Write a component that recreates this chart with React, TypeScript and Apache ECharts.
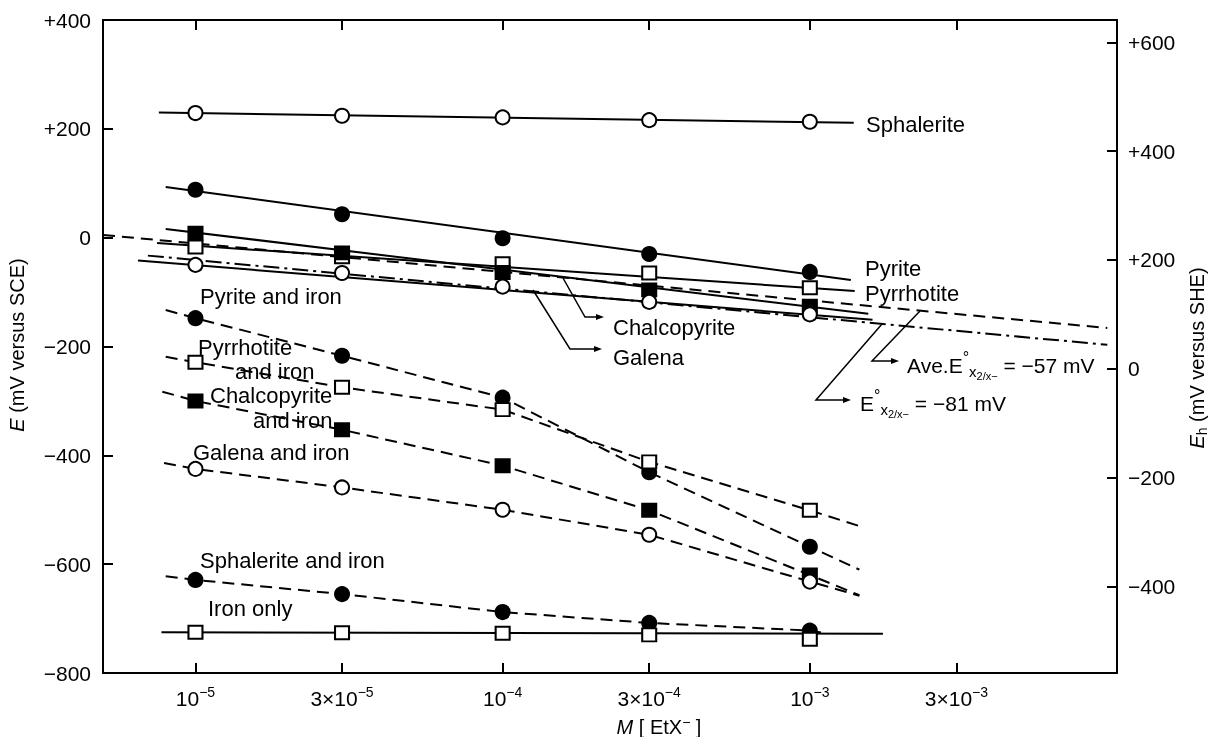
import React, { useEffect, useRef } from "react";
import * as echarts from "echarts";

// ---------- data ----------
const concentrations = [1e-5, 3e-5, 1e-4, 3e-4, 1e-3];
const xTicks = [1e-5, 3e-5, 1e-4, 3e-4, 1e-3, 3e-3];
const xTickPrefix = ["", "3×", "", "3×", "", "3×"];
const xTickExp = ["−5", "−5", "−4", "−4", "−3", "−3"];
const yLeftTicks = [-800, -600, -400, -200, 0, 200, 400];
const yRightTicks = [-400, -200, 0, 200, 400, 600];
const SCE_TO_SHE = 241;
const X_MIN = 5e-6;
const X_MAX = 1e-2;

// mineral electrodes (E, mV vs SCE)
const sphalerite = [229, 224, 221, 216, 213];
const pyrite = [88, 43, -1, -30, -63];
const pyrrhotite = [-17, -35, -48, -65, -92];
const chalcopyrite = [8, -28, -64, -96, -126];
const galena = [-50, -65, -90, -118, -141];

// mineral + iron
const pyriteIron = [-148, -217, -294, -431, -568];
const pyrrhotiteIron = [-229, -275, -316, -412, -501];
const chalcopyriteIron = [-300, -353, -419, -501, -620];
const galenaIron = [-425, -459, -500, -546, -632];
const sphaleriteIron = [-629, -655, -688, -708, -722];
const ironOnly = [-725, -726, -727, -730, -738];

// fitted line end points [M, E]
const sphaleriteFit = [[7.6e-6, 230], [1.39e-3, 211]];
const pyriteFit = [[8e-6, 93], [1.36e-3, -78]];
const pyrrhotiteFit = [[7.5e-6, -10], [1.4e-3, -98]];
const chalcopyriteFit = [[8e-6, 16], [1.55e-3, -140]];
const galenaFit = [[6.5e-6, -42], [1.6e-3, -151]];
const ironOnlyFit = [[7.75e-6, -725], [1.73e-3, -728]];
const aveE57Line = [[5e-6, 5], [9.3e-3, -166]];
const e81Line = [[7e-6, -33], [9.3e-3, -197]];

// extension points of the dashed "and iron" curves [start, end]
const pyriteIronExt = [[8e-6, -133], [1.45e-3, -610]];
const pyrrhotiteIronExt = [[8e-6, -219], [1.45e-3, -530]];
const chalcopyriteIronExt = [[7.8e-6, -283], [1.45e-3, -657]];
const galenaIronExt = [[7.9e-6, -414], [1.45e-3, -658]];
const sphaleriteIronExt = [[8e-6, -622], [1.1e-3, -726]];

// ---------- helpers ----------
const FONT = '"Liberation Sans", Arial, Helvetica, sans-serif';
const lg = Math.log10;
const DASH = [12, 7];
const DASHDOT = [16, 5, 3, 5];

const pts = (vals: number[]) => concentrations.map((c, i) => [lg(c), vals[i]]);
const seg = (p: number[][]) => p.map(([c, e]) => [lg(c), e]);
const curve = (vals: number[], ext: number[][]) => [
  [lg(ext[0][0]), ext[0][1]],
  ...pts(vals),
  [lg(ext[1][0]), ext[1][1]],
];

const lineS = (data: number[][], type: any, width = 2) => ({
  type: "line",
  data,
  symbol: "none",
  silent: true,
  z: 2,
  lineStyle: { color: "#000", width, type },
});

const markS = (vals: number[], symbol: string, filled: boolean) => ({
  type: "scatter",
  data: pts(vals),
  symbol,
  symbolSize: symbol === "rect" ? [14, 13] : 14,
  silent: true,
  z: 5,
  itemStyle: { color: filled ? "#000" : "#fff", borderColor: "#000", borderWidth: 2, opacity: 1 },
});

const signed = (v: number) => (v > 0 ? "+" + v : v < 0 ? "−" + -v : "0");

const label = (text: string, x: number, y: number, size = 22) => ({
  type: "text",
  x,
  y,
  silent: true,
  z: 100,
  style: { text, fill: "#000", fontSize: size, fontFamily: FONT, align: "left", verticalAlign: "middle" },
});

const leader = (points: number[][]) => {
  const [x, y] = points[points.length - 1];
  return [
    { type: "polyline", silent: true, z: 90, shape: { points }, style: { stroke: "#000", lineWidth: 1.5, fill: null } },
    {
      type: "polygon",
      silent: true,
      z: 90,
      shape: { points: [[x + 6, y], [x - 2, y - 3], [x - 2, y + 3]] },
      style: { fill: "#000" },
    },
  ];
};

const annotRich = {
  n: { fontSize: 21, fontFamily: FONT, fill: "#000" },
  d: { fontSize: 16, fontFamily: FONT, fill: "#000", padding: [0, 0, 16, 0] },
  s: { fontSize: 15, fontFamily: FONT, fill: "#000", padding: [12, 0, 0, 0] },
  ss: { fontSize: 11, fontFamily: FONT, fill: "#000", padding: [22, 0, 0, 0] },
};

export default function App() {
  const ref = useRef<HTMLDivElement>(null);
  useEffect(() => {
    document.body.style.margin = "0";
    if (!ref.current) return;
    const chart = echarts.init(ref.current, null, { renderer: "svg" });
    const xTickPos = xTicks.map(lg);
    const axisLineStyle = { color: "#000", width: 2 };
    const tickStyle = { color: "#000", width: 2 };
    const xFmt = (v: number) => {
      const i = xTickPos.findIndex((t) => Math.abs(t - v) < 1e-6);
      if (i < 0) return "";
      return `{m|${xTickPrefix[i]}10}{e|${xTickExp[i]}}`;
    };
    const option: any = {
      animation: false,
      textStyle: { fontFamily: FONT },
      grid: { left: 103, right: 95, top: 20, bottom: 64, containLabel: false },
      xAxis: [
        {
          type: "value",
          min: lg(X_MIN),
          max: lg(X_MAX),
          position: "bottom",
          axisLine: { show: true, onZero: false, lineStyle: axisLineStyle },
          axisTick: { show: true, inside: true, length: 10, customValues: xTickPos, lineStyle: tickStyle },
          axisLabel: {
            show: true,
            customValues: xTickPos,
            margin: 12,
            formatter: xFmt,
            rich: {
              m: { fontSize: 21, fontFamily: FONT, color: "#000" },
              e: { fontSize: 14, fontFamily: FONT, color: "#000", padding: [0, 0, 12, 0] },
            },
          },
          splitLine: { show: false },
        },
        {
          type: "value",
          min: lg(X_MIN),
          max: lg(X_MAX),
          position: "top",
          axisLine: { show: true, onZero: false, lineStyle: axisLineStyle },
          axisTick: { show: true, inside: true, length: 10, customValues: xTickPos, lineStyle: tickStyle },
          axisLabel: { show: false },
          splitLine: { show: false },
        },
      ],
      yAxis: [
        {
          type: "value",
          min: -800,
          max: 400,
          interval: 200,
          position: "left",
          axisLine: { show: true, onZero: false, lineStyle: axisLineStyle },
          axisTick: { show: true, inside: true, length: 10, customValues: yLeftTicks, lineStyle: tickStyle },
          axisLabel: { customValues: yLeftTicks, formatter: signed, fontSize: 21, color: "#000", fontFamily: FONT, margin: 12 },
          splitLine: { show: false },
        },
        {
          type: "value",
          min: -800 + SCE_TO_SHE,
          max: 400 + SCE_TO_SHE,
          position: "right",
          axisLine: { show: true, onZero: false, lineStyle: axisLineStyle },
          axisTick: { show: true, inside: true, length: 10, customValues: yRightTicks, lineStyle: tickStyle },
          axisLabel: { customValues: yRightTicks, formatter: signed, fontSize: 21, color: "#000", fontFamily: FONT, margin: 11 },
          splitLine: { show: false },
        },
      ],
      series: [
        lineS(seg(sphaleriteFit), "solid"),
        lineS(seg(pyriteFit), "solid"),
        lineS(seg(pyrrhotiteFit), "solid"),
        lineS(seg(chalcopyriteFit), "solid"),
        lineS(seg(galenaFit), "solid"),
        lineS(seg(aveE57Line), DASH),
        lineS(seg(e81Line), DASHDOT),
        lineS(curve(pyriteIron, pyriteIronExt), DASH),
        lineS(curve(pyrrhotiteIron, pyrrhotiteIronExt), DASH),
        lineS(curve(chalcopyriteIron, chalcopyriteIronExt), DASH),
        lineS(curve(galenaIron, galenaIronExt), DASH),
        lineS(curve(sphaleriteIron, sphaleriteIronExt), DASH),
        lineS(seg(ironOnlyFit), "solid"),
        markS(sphalerite, "circle", false),
        markS(pyrite, "circle", true),
        markS(pyrrhotite, "rect", false),
        markS(chalcopyrite, "rect", true),
        markS(galena, "circle", false),
        markS(pyriteIron, "circle", true),
        markS(pyrrhotiteIron, "rect", false),
        markS(chalcopyriteIron, "rect", true),
        markS(galenaIron, "circle", false),
        markS(sphaleriteIron, "circle", true),
        markS(ironOnly, "rect", false),
      ],
      graphic: [
        label("Sphalerite", 866, 124),
        label("Pyrite", 865, 268),
        label("Pyrrhotite", 865, 293),
        label("Chalcopyrite", 613, 327),
        label("Galena", 613, 357),
        label("Pyrite and iron", 200, 296),
        label("Pyrrhotite", 198, 347),
        label("and iron", 235, 371),
        label("Chalcopyrite", 210, 395),
        label("and iron", 253, 420),
        label("Galena and iron", 193, 452),
        label("Sphalerite and iron", 200, 560),
        label("Iron only", 208, 608),
        ...leader([[563, 278], [585, 317], [598, 317]]),
        ...leader([[533, 290], [570, 349], [596, 349]]),
        ...leader([[920, 311], [872, 361], [893, 361]]),
        ...leader([[882, 324], [816, 400], [845, 400]]),
        {
          type: "text",
          x: 907,
          y: 365,
          silent: true,
          z: 100,
          style: { text: "{n|Ave.E}{d|°}{s|x}{ss|2/x−}{n| = −57 mV}", verticalAlign: "middle", rich: annotRich },
        },
        {
          type: "text",
          x: 860,
          y: 403,
          silent: true,
          z: 100,
          style: { text: "{n|E}{d|°}{s|x}{ss|2/x−}{n| = −81 mV}", verticalAlign: "middle", rich: annotRich },
        },
        {
          type: "text",
          x: 17,
          y: 345,
          rotation: Math.PI / 2,
          silent: true,
          style: {
            text: "{i|E}{n| (mV versus SCE)}",
            align: "center",
            verticalAlign: "middle",
            rich: {
              i: { fontSize: 20, fontStyle: "italic", fontFamily: FONT, fill: "#000" },
              n: { fontSize: 20, fontFamily: FONT, fill: "#000" },
            },
          },
        },
        {
          type: "text",
          x: 1197,
          y: 358,
          rotation: Math.PI / 2,
          silent: true,
          style: {
            text: "{i|E}{s|h}{n| (mV versus SHE)}",
            align: "center",
            verticalAlign: "middle",
            rich: {
              i: { fontSize: 20, fontStyle: "italic", fontFamily: FONT, fill: "#000" },
              s: { fontSize: 14, fontFamily: FONT, fill: "#000", padding: [10, 0, 0, 0] },
              n: { fontSize: 20, fontFamily: FONT, fill: "#000" },
            },
          },
        },
        {
          type: "text",
          x: 659,
          y: 727,
          silent: true,
          style: {
            text: "{i|M}{n| [ EtX}{s|−}{n| ]}",
            align: "center",
            verticalAlign: "middle",
            rich: {
              i: { fontSize: 20, fontStyle: "italic", fontFamily: FONT, fill: "#000" },
              n: { fontSize: 20, fontFamily: FONT, fill: "#000" },
              s: { fontSize: 14, fontFamily: FONT, fill: "#000", padding: [0, 0, 10, 0] },
            },
          },
        },
      ],
    };
    chart.setOption(option);
    return () => chart.dispose();
  }, []);
  return <div ref={ref} style={{ position: "fixed", left: 0, top: 0, width: 1212, height: 737 }} />;
}
